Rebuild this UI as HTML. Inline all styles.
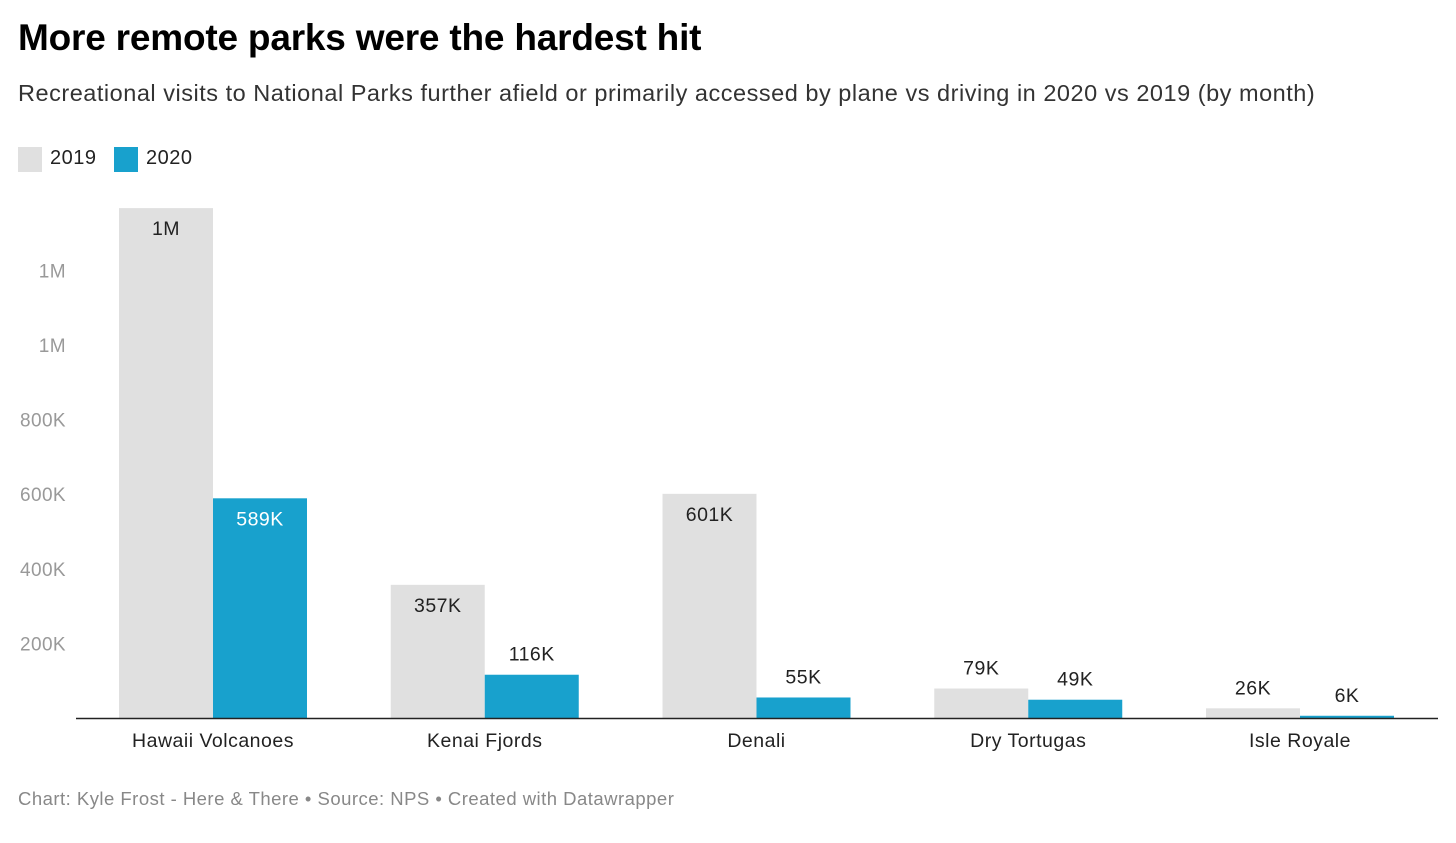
<!DOCTYPE html>
<html><head><meta charset="utf-8">
<style>
body{margin:0;background:#fff;font-family:"Liberation Sans",sans-serif;}
#wrap{position:relative;width:1456px;height:843px;overflow:hidden;}
.t{position:absolute;white-space:nowrap;}
</style></head>
<body>
<div id="wrap">
<div class="t" style="left:18px;top:17px;font-size:37px;font-weight:bold;color:#000;letter-spacing:-0.2px">More remote parks were the hardest hit</div>
<div class="t" style="left:18px;top:80px;font-size:23.5px;color:#333;letter-spacing:0.52px">Recreational visits to National Parks further afield or primarily accessed by plane vs driving in 2020 vs 2019 (by month)</div>
<div style="position:absolute;left:18px;top:147px;width:24px;height:25px;background:#e0e0e0"></div>
<div class="t" style="left:50px;top:147px;font-size:20px;color:#222;letter-spacing:0.5px">2019</div>
<div style="position:absolute;left:114px;top:147px;width:24px;height:25px;background:#18a1cd"></div>
<div class="t" style="left:146px;top:147px;font-size:20px;color:#222;letter-spacing:0.5px">2020</div>
<svg id="chart" width="1456" height="843" style="position:absolute;left:0;top:0"></svg>
<div class="t" style="left:18px;top:788px;font-size:18.5px;color:#888;letter-spacing:0.48px">Chart: Kyle Frost - Here &amp; There • Source: NPS • Created with Datawrapper</div>
</div>
<script>
const categories=["Hawaii Volcanoes","Kenai Fjords","Denali","Dry Tortugas","Isle Royale"];
const values2019=[1367,357,601,79,26];
const values2020=[589,116,55,49,6];
const labels2019=["1M","357K","601K","79K","26K"];
const labels2020=["589K","116K","55K","49K","6K"];
const tickValues=[200,400,600,800,1000,1200];
const tickLabels=["200K","400K","600K","800K","1M","1M"];

const NS="http://www.w3.org/2000/svg";
const svg=document.getElementById('chart');
const base=718, pxPerK=74.6/200;
const y=v=>base-v*pxPerK;
const groupX=i=>119+i*271.75;
const barW=94;
function mk(tag,attrs){const e=document.createElementNS(NS,tag);for(const k in attrs)e.setAttribute(k,attrs[k]);svg.appendChild(e);return e;}
tickValues.forEach((v,i)=>{
  const t=mk('text',{x:66,y:y(v)+7,'text-anchor':'end','font-size':19,fill:'#999','font-family':'Liberation Sans, sans-serif','letter-spacing':0.4});
  
  
  t.textContent=tickLabels[i];
});
categories.forEach((c,i)=>{
  [[values2019,labels2019,'#e0e0e0',0,'2019'],[values2020,labels2020,'#18a1cd',barW,'2020']].forEach(([vals,labs,col,off,yr])=>{
    const x=groupX(i)+off, top=y(vals[i]), h=base-top;
    const r=mk('rect',{x:x,y:top,width:barW,height:Math.max(h,1),fill:col});
    
    
    const inside=h>60;
    const ty=inside?top+27:top-14;
    const fill=inside&&yr==='2020'?'#fff':'#222';
    const t=mk('text',{x:x+barW/2,y:ty,'text-anchor':'middle','font-size':19.5,fill:fill,'font-family':'Liberation Sans, sans-serif','letter-spacing':0.5});
    
    
    t.textContent=labs[i];
  });
  const t=mk('text',{x:groupX(i)+barW,y:747,'text-anchor':'middle','font-size':19.5,fill:'#222','font-family':'Liberation Sans, sans-serif','letter-spacing':0.5});
  
  
  t.textContent=c;
});
const ax=mk('line',{x1:76,x2:1438,y1:base+0.5,y2:base+0.5,stroke:'#222','stroke-width':1.5});


</script>
</body></html>
